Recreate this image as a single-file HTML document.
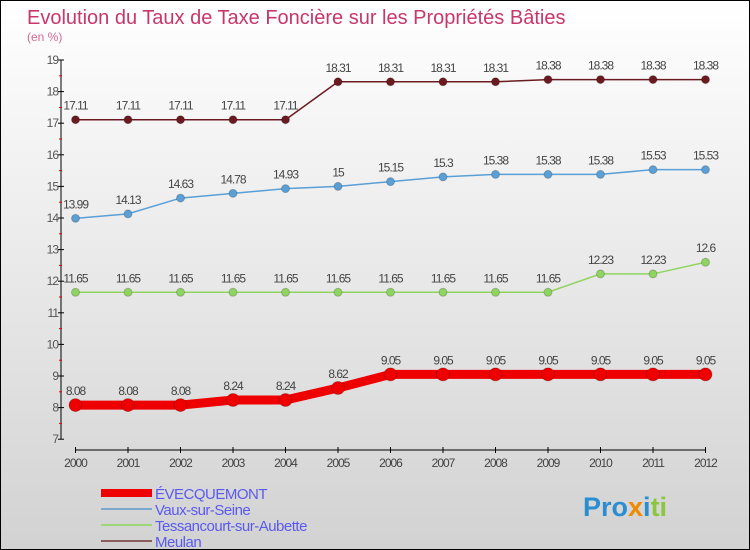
<!DOCTYPE html>
<html><head><meta charset="utf-8"><style>
body{margin:0}
#c{width:750px;height:550px;position:relative;box-sizing:border-box;border:1px solid #000;background:linear-gradient(#ffffff,#d2d2d2);font-family:"Liberation Sans",sans-serif;overflow:hidden}
</style></head><body>
<div id="c">
<svg id="s" width="748" height="548" xmlns="http://www.w3.org/2000/svg"></svg>
</div>
<script>
const years=[2000,2001,2002,2003,2004,2005,2006,2007,2008,2009,2010,2011,2012];
const yTicks=[7,8,9,10,11,12,13,14,15,16,17,18,19];
const evecquemont=[8.08,8.08,8.08,8.24,8.24,8.62,9.05,9.05,9.05,9.05,9.05,9.05,9.05];
const vaux=[13.99,14.13,14.63,14.78,14.93,15,15.15,15.3,15.38,15.38,15.38,15.53,15.53];
const tessancourt=[11.65,11.65,11.65,11.65,11.65,11.65,11.65,11.65,11.65,11.65,12.23,12.23,12.6];
const meulan=[17.11,17.11,17.11,17.11,17.11,18.31,18.31,18.31,18.31,18.38,18.38,18.38,18.38];
const s=document.getElementById('s');
const NS='http://www.w3.org/2000/svg';
const X=i=>74.5+i*52.5;
const Y=v=>59+(19-v)*31.6;
function mk(tag,attrs,parent){const e=document.createElementNS(NS,tag);for(const k in attrs)e.setAttribute(k,attrs[k]);(parent||s).appendChild(e);return e;}
let t=mk('text',{x:26,y:23,'font-size':20,fill:'#c8376a'});t.textContent='Evolution du Taux de Taxe Foncière sur les Propriétés Bâties';


t=mk('text',{x:26,y:40,'font-size':12,fill:'#d06a90'});t.textContent='(en %)';


// axes
let ax=mk('line',{x1:60,y1:Y(19),x2:60,y2:Y(7),stroke:'#000','stroke-width':1});


ax=mk('line',{x1:X(0),y1:449,x2:X(12),y2:449,stroke:'#000','stroke-width':1});


yTicks.forEach(v=>{
 mk('line',{x1:57,y1:Y(v),x2:63,y2:Y(v),stroke:'#000'});
 if(v<19)mk('line',{x1:58,y1:Y(v+0.5),x2:61,y2:Y(v+0.5),stroke:'#e00'});
 const l=mk('text',{x:57,y:Y(v)+4,'font-size':12,fill:'#555','text-anchor':'end','letter-spacing':'-1'});l.textContent=v;
 
 
});
years.forEach((yr,i)=>{
 mk('line',{x1:X(i),y1:446,x2:X(i),y2:452,stroke:'#000'});
 const l=mk('text',{x:X(i),y:466,'font-size':12,fill:'#444','text-anchor':'middle','letter-spacing':'-1'});l.textContent=yr;
 
 
});
function series(data,color,lw,r,name){
 const g=mk('g',{});
 
 
 mk('polyline',{points:data.map((v,i)=>X(i)+','+Y(v)).join(' '),fill:'none',stroke:color,'stroke-width':lw},g);
 data.forEach((v,i)=>{
  const c=mk('circle',{cx:X(i),cy:Y(v),r:r,fill:color,stroke:'rgba(0,0,0,0.2)'},g);
  
  
  const l=mk('text',{x:X(i),y:Y(v)-10,'font-size':12,fill:'#444','text-anchor':'middle','letter-spacing':'-1'},g);l.textContent=v;
  
  
 });
}
series(meulan,'#6b1a1f',1.5,4,'meulan');
series(vaux,'#5a9fd6',1.5,4,'vaux');
series(tessancourt,'#8fd460',1.5,4,'tessancourt');
series(evecquemont,'#ee0000',9,6.5,'evecquemont');
const leg=[['ÉVECQUEMONT','#ee0000',8],['Vaux-sur-Seine','#7aa8cf',2],['Tessancourt-sur-Aubette','#9fd67a',2],['Meulan','#8b5c5c',2]];
leg.forEach((e,i)=>{
 const y=492+i*16;
 const g=mk('g',{});
 
 
 mk('line',{x1:100,y1:y,x2:151,y2:y,stroke:e[1],'stroke-width':e[2]},g);
 const l=mk('text',{x:154,y:y+6,'font-size':15,fill:'#5a5af0','letter-spacing':'-0.5'},g);l.textContent=e[0];
});
const logo=mk('text',{x:582,y:515,'font-size':27,'font-weight':'bold',fill:'#2a8fd0'});
logo.innerHTML='<tspan fill="#2a8fd0">Pro</tspan><tspan fill="#f08a00">x</tspan><tspan fill="#2a8fd0">i</tspan><tspan fill="#8cc63f">ti</tspan>';


</script>
</body></html>
